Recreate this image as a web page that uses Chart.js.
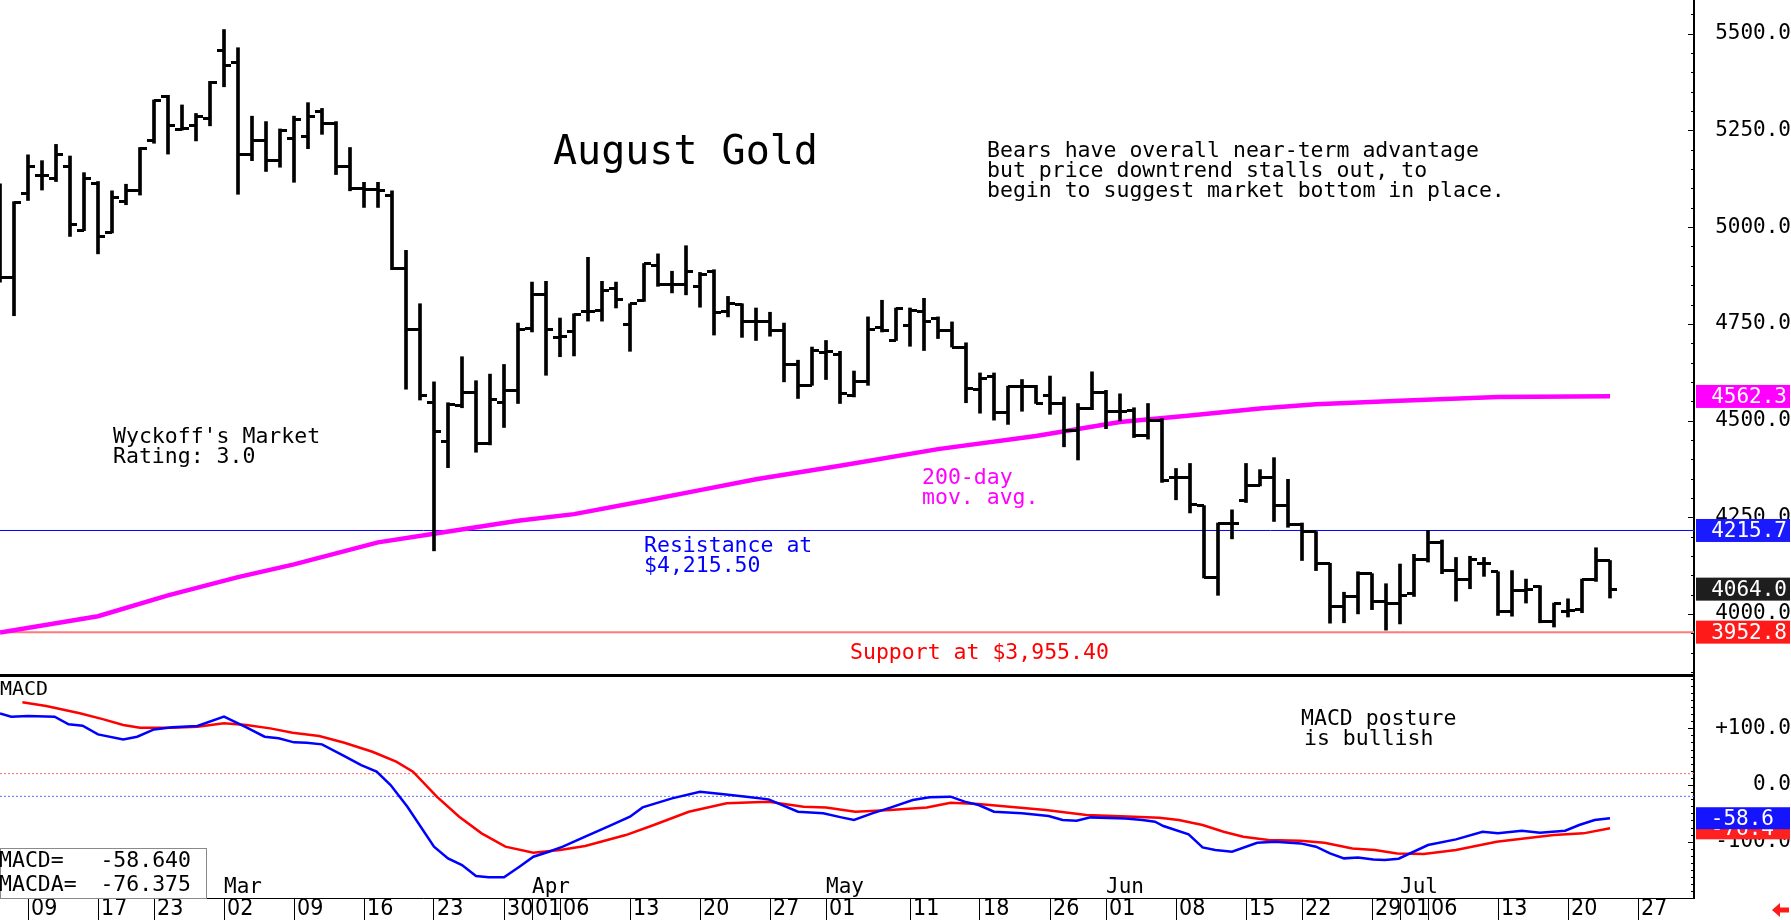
<!DOCTYPE html>
<html><head><meta charset="utf-8">
<script src="https://cdn.jsdelivr.net/npm/chart.js@4"></script>
<style>
html,body{margin:0;padding:0;background:#fff;width:1791px;height:920px;overflow:hidden}
#wrapA{position:absolute;left:0;top:0;width:1791px;height:677px}
#wrapB{position:absolute;left:0;top:677px;width:1791px;height:243px}
</style></head><body>
<div id="wrapA"><canvas id="priceChart"></canvas></div>
<div id="wrapB"><canvas id="macdChart"></canvas></div>
<script>
// ===== DATA (x = trading-day index, 0 = Feb 5) =====
const opens = [5000,4869,5086,5133,5127,5156,4991,5114,4987,5066, 5094,5223,5338,5253,5262,5282,5458,5425,5189,5223,
 5172,5228,5234,5298,5268,5158,5099,5097,5083,4894, 4735,4546,4445,4538,4572,4440,4546,4578,4738,4825,
 4715,4729,4782,4785,4841,4748,4811,4901,4853,4853, 4847,4886,4782,4799,4757,4757,4733,4645,4591,4676,
 4670,4566,4600,4740,4707,4746,4782,4763,4733,4690, 4580,4614,4522,4587,4587,4566,4544,4474,4531,4572,
 4524,4527,4460,4501,4353,4353,4280,4095,4235,4292, 4331,4353,4280,4230,4213,4131,4019,4045,4104,4033,
 4028,4053,4140,4185,4112,4090,4131,4109,4005,4061, 4071,3981,4005,4011,4090,4138];
const highs = [5112,5066,5187,5172,5214,5184,5141,5118,5094,5111, 5206,5329,5341,5316,5294,5377,5511,5464,5287,5273,
 5254,5287,5322,5307,5273,5206,5116,5116,5094,4940, 4802,4600,4546,4665,4603,4620,4645,4752,4858,4860,
 4765,4776,4922,4860,4858,4802,4906,4931,4886,4952, 4883,4890,4821,4802,4791,4780,4752,4656,4690,4707,
 4679,4628,4768,4811,4791,4791,4816,4768,4755,4701, 4623,4623,4589,4606,4591,4615,4561,4544,4626,4578,
 4569,4533,4544,4505,4376,4389,4280,4235,4269,4389, 4373,4404,4348,4235,4213,4131,4056,4109,4104,4078,
 4129,4154,4216,4191,4146,4149,4146,4109,4112,4090, 4073,4028,4039,4090,4171,4138];
const lows = [4858,4771,5069,5096,5118,4976,4991,4931,4985,5058, 5083,5217,5189,5251,5223,5262,5363,5085,5172,5144,
 5155,5116,5203,5240,5136,5094,5051,5051,4890,4581, 4553,4163,4378,4533,4418,4437,4482,4544,4729,4617,
 4665,4667,4757,4757,4791,4679,4808,4847,4830,4825, 4793,4721,4768,4715,4707,4718,4600,4557,4591,4606,
 4544,4561,4591,4729,4707,4692,4681,4712,4690,4546, 4519,4501,4490,4524,4544,4516,4432,4398,4528,4479,
 4499,4456,4452,4340,4295,4261,4093,4048,4194,4288, 4331,4239,4224,4138,4112,3976,3977,4000,4011,3958,
 3974,4045,4134,4104,4033,4065,4097,3996,3994,4028, 3977,3966,3992,4003,4084,4041];
const closes = [4869,5063,5156,5133,5187,5006,5127,4976,5077,5094, 5204,5327,5262,5255,5285,5374,5419,5189,5223,5172,
 5251,5279,5287,5268,5158,5099,5097,5094,4894,4735, 4564,4471,4542,4572,4440,4555,4578,4735,4825,4735,
 4718,4774,4782,4836,4813,4802,4905,4853,4853,4886, 4878,4780,4802,4757,4757,4733,4645,4591,4681,4679,
 4569,4600,4735,4733,4789,4784,4757,4733,4690,4583, 4609,4522,4587,4587,4544,4544,4474,4531,4572,4524,
 4524,4460,4501,4344,4353,4284,4095,4235,4235,4331, 4353,4280,4230,4213,4131,4019,4045,4104,4033,4028,
 4048,4140,4185,4112,4090,4140,4131,4005,4061,4064, 3981,4026,4008,4090,4138,4064];

const maIdx = [0,7,12,17,21,27,31,34,37,41,46,50,54,60,67,74,80,85,90,94,100,107,115];
const maVal = [3952,3994,4048,4095,4128,4185,4207,4224,4241,4258,4292,4320,4348,4383,4426,4460,4496,4513,4531,4542,4551,4561,4563];

const resistanceLevel = 4215.7;
const supportLevel = 3952.8;
const priceMarkerVals = [4562.3, 4215.7, 4064.0, 3952.8];

const macdIdx = [0,0.8,2,3.9,4.9,5.9,7,8.8,9.8,11,12.3,14.1,16,17.6,18.9,19.9,21,21.9,23,24.6,25.8,26.9,27.9,29.1,31,32,33,34,34.9,36,37.1,38.1,39.2,40.2,41.8,43.5,45,45.9,48,50,51.7,53.3,54.9,57,58.8,60.1,61,62.3,63.6,65.2,66.4,67.9,68.9,69.9,71,73,74.9,75.9,76.9,77.9,80.4,81.6,82.5,83.1,84.9,85.9,86.8,88,89.8,91.1,92.9,94,95,96,97,98.1,98.9,99.9,102,104,105.9,107,108.7,110,111.8,112.8,113.9,115];
const macdVal = [126,120.5,121.7,120.5,107,104.6,89.3,80.5,85.2,98.1,101.7,104,120.5,101.7,85.2,82.3,75.2,74.6,71.7,51.1,35.2,23.5,0,-38.3,-108.8,-129.4,-141.2,-160.6,-162.9,-162.9,-144.1,-126.5,-117.7,-108.8,-91.2,-72.4,-55.9,-39.5,-23.6,-11.8,-16.5,-20.6,-25.3,-47.1,-50,-57.1,-61.8,-50,-40,-26.5,-21.8,-20.6,-29.4,-35.3,-47.1,-50,-54.7,-61.8,-63,-57.1,-58.9,-61.8,-64.7,-72.4,-87.1,-110,-114.7,-117.7,-101.8,-100,-103,-108.8,-120.6,-129.4,-127.7,-131.2,-132.4,-130,-105.9,-95.9,-82.4,-85.3,-80.6,-84.1,-80.6,-70.6,-61.8,-58.6];
const signalIdx = [1.6,3.3,5.7,7.4,8.8,10,12.3,14.1,16,17.6,19.3,20.9,22.8,24.6,26.6,28.3,29.5,31.2,32.8,34.4,36.1,38.1,40,41.8,44.7,46.7,49.2,51.9,54.9,57.4,59,61.1,63.6,66.2,67.9,69.9,72.1,74.7,77.6,81,82.8,84.2,85.9,87.4,88.8,90.6,92.9,94.6,96.6,98.2,99.8,101.7,104,106.9,109,111,113.1,115];
const signalVal = [145.8,139.3,126.4,115.8,105.8,101.1,101.1,102.8,108.7,105.8,99.9,92.3,86.4,74.6,58.7,41.1,23.5,-20.6,-55.9,-85.3,-108.8,-119.4,-114.7,-107.7,-88.3,-70.6,-47.1,-32.3,-29.4,-38.3,-39.5,-47.1,-44,-39.5,-31.2,-33.6,-38.3,-44.2,-53,-55.9,-57.7,-61.8,-70.6,-82.4,-91.2,-97.1,-98.3,-101.8,-111.8,-114.7,-120.6,-121.8,-114.7,-100,-94.1,-88.3,-85.3,-76.4];
const macdUpperRef = 20;
const macdLowerRef = -20;
const macdMarkerVals = [-76.4, -58.6];
const macdLastText = '-58.640';
const signalLastText = '-76.375';

const dateTickIdx = [2,7,11,16,21,26,31,36,38,40,45,50,55,59,65,70,75,79,84,89,93,98,100,102,107,112,117];
const dateTickLabels = ['09','17','23','02','09','16','23','30','01','06','13','20','27','01','11','18','26','01','08','15','22','29','01','06','13','20','27'];
const monthIdx = [16,38,59,79,100];
const monthLabels = ['Mar','Apr','May','Jun','Jul'];

// ===== STYLE / LAYOUT =====
const MONO = "'DejaVu Sans Mono', monospace";
const NARROW = "'Liberation Sans Narrow', 'DejaVu Sans Condensed', 'DejaVu Sans Mono', sans-serif";
const X_MIN = 0, X_MAX = 121;
function tickImg(left){const c=document.createElement('canvas');c.width=14;c.height=3;const g=c.getContext('2d');g.fillStyle='#000';g.fillRect(left?0:7,0,7,3);return c;}
const openImg = tickImg(true), closeImg = tickImg(false);
const priceMarkerColors = ['#ff00ff','#1a1aff','#1e1e1e','#ff1a1a'];
const macdMarkerColors = ['#ff2020','#1414ff'];

function txt(ctx, s, x, y, size, color, align){
  ctx.font = size + 'px ' + MONO; ctx.fillStyle = color; ctx.textAlign = align || 'left'; ctx.textBaseline = 'alphabetic';
  ctx.fillText(s, x, y);
}
function stepTicks(step){
  return s => { const t = []; for (let v = Math.ceil(s.min / step) * step; v <= s.max; v += step) t.push({value: v}); s.ticks = t; };
}
function fixY(s){ s.width = 97; s.paddingTop = 0; s.paddingBottom = 0; }

const priceDecor = {
  id: 'priceDecor',
  afterDraw(chart){
    const {ctx, chartArea: a} = chart; const y = chart.scales.y;
    ctx.save();
    ctx.fillStyle = '#000';
    y.ticks.forEach(t => {
      const py = Math.round(y.getPixelForValue(t.value));
      const len = (t.value % 250 === 0) ? 6 : 3;
      ctx.fillRect(a.right - len, py, len, 1);
    });
    ctx.fillRect(0, a.bottom - 3, a.right, 3);
    // annotations
    txt(ctx, 'August Gold', 553, 164, 40, '#000');
    const b = ['Bears have overall near-term advantage','but price downtrend stalls out, to','begin to suggest market bottom in place.'];
    b.forEach((s,i)=>txt(ctx, s, 987, 157 + i*20.2, 21.5, '#000'));
    txt(ctx, "Wyckoff's Market", 113, 442.5, 21.5, '#000');
    txt(ctx, 'Rating: 3.0', 113, 463, 21.5, '#000');
    txt(ctx, '200-day', 922, 484, 21.5, '#ff00ff');
    txt(ctx, 'mov. avg.', 922, 504, 21.5, '#ff00ff');
    txt(ctx, 'Resistance at', 644, 552, 21.5, '#0000ff');
    txt(ctx, '$4,215.50', 644, 571.5, 21.5, '#0000ff');
    txt(ctx, 'Support at $3,955.40', 850, 659, 21.5, '#ff0000');
    // value markers on axis
    priceMarkerVals.forEach((v,i)=>{
      const py = y.getPixelForValue(v);
      ctx.fillStyle = priceMarkerColors[i];
      ctx.fillRect(1696, py - 11.5, 94, 23);
      ctx.font = '21px ' + MONO; ctx.fillStyle = '#fff'; ctx.textAlign = 'right'; ctx.textBaseline = 'middle';
      ctx.fillText(v.toFixed(1), 1787, py + 1);
    });
    ctx.restore();
  }
};

new Chart(document.getElementById('priceChart'), {
  type: 'bar',
  data: { datasets: [
    { type:'bar', data: lows.map((l,i)=>({x:i, y:[l, highs[i]]})), backgroundColor:'#000', borderWidth:0, barThickness:3, order:0 },
    { type:'scatter', data: opens.map((v,i)=>({x:i, y:v})), pointStyle: openImg, pointRadius:7, order:0 },
    { type:'scatter', data: closes.map((v,i)=>({x:i, y:v})), pointStyle: closeImg, pointRadius:7, order:0 },
    { type:'line', data: maIdx.map((x,i)=>({x, y:maVal[i]})), borderColor:'#ff00ff', borderWidth:4.5, pointRadius:0, tension:0, order:1 },
    { type:'line', data: [{x:X_MIN, y:resistanceLevel},{x:X_MAX, y:resistanceLevel}], borderColor:'#0000ff', borderWidth:1, pointRadius:0, order:2 },
    { type:'line', data: [{x:X_MIN, y:supportLevel},{x:X_MAX, y:supportLevel}], borderColor:'#ff7a7a', borderWidth:2, pointRadius:0, order:2 }
  ]},
  options: {
    responsive:true, maintainAspectRatio:false, animation:false, devicePixelRatio:1, events:[],
    layout:{padding:0, autoPadding:false},
    plugins:{legend:{display:false}, tooltip:{enabled:false}},
    scales:{
      x:{ type:'linear', min:X_MIN, max:X_MAX, offset:false, display:false },
      y:{ type:'linear', position:'right', min:3836.8, max:5587.4,
          afterBuildTicks: stepTicks(50),
          afterFit: fixY,
          grid:{ drawOnChartArea:false, drawTicks:false },
          border:{ display:true, color:'#000', width:2 },
          ticks:{ autoSkip:false, crossAlign:'far', padding:17, color:'#000',
                  font:{ family:MONO, size:21 }, callback: v => (v % 250 === 0 ? v.toFixed(1) : '') } }
    }
  },
  plugins:[priceDecor]
});

const macdDecor = {
  id: 'macdDecor',
  afterDraw(chart){
    const {ctx, chartArea: a} = chart; const y = chart.scales.y; const x = chart.scales.x;
    ctx.save();
    ctx.fillStyle = '#000';
    y.ticks.forEach(t => {
      const py = Math.round(y.getPixelForValue(t.value));
      const len = (t.value % 100 === 0) ? 6 : 3;
      ctx.fillRect(a.right - len, py, len, 1);
    });
    txt(ctx, 'MACD', 0, 18, 20, '#000');
    txt(ctx, 'MACD posture', 1301, 48, 21.5, '#000');
    txt(ctx, 'is bullish', 1304, 68, 21.5, '#000');
    monthIdx.forEach((m,i)=> txt(ctx, monthLabels[i], x.getPixelForValue(m), 216, 21, '#000'));
    // value box
    ctx.fillStyle = '#fff'; ctx.fillRect(0, 171, 207, 50);
    ctx.strokeStyle = '#8a8a8a'; ctx.lineWidth = 1; ctx.strokeRect(0.5, 171.5, 206, 50);
    txt(ctx, 'MACD=', -1, 190, 21.5, '#000');
    txt(ctx, 'MACDA=', -1, 214, 21.5, '#000');
    txt(ctx, macdLastText, 191, 190, 21.5, '#000', 'right');
    txt(ctx, signalLastText, 191, 214, 21.5, '#000', 'right');
    // markers
    macdMarkerVals.forEach((v,i)=>{
      const py = y.getPixelForValue(v);
      ctx.fillStyle = macdMarkerColors[i];
      ctx.fillRect(1696, py - 11, 94, 22);
      ctx.font = '21px ' + MONO; ctx.fillStyle = '#fff'; ctx.textAlign = 'right'; ctx.textBaseline = 'middle';
      ctx.fillText(v.toFixed(1), 1774, py + 1);
    });
    // red arrow
    ctx.fillStyle = '#ff1a1a';
    ctx.beginPath(); ctx.moveTo(1772, 233); ctx.lineTo(1780, 226); ctx.lineTo(1780, 230.5); ctx.lineTo(1789, 230.5);
    ctx.lineTo(1789, 235.5); ctx.lineTo(1780, 235.5); ctx.lineTo(1780, 240); ctx.closePath(); ctx.fill();
    ctx.restore();
  }
};

new Chart(document.getElementById('macdChart'), {
  type: 'line',
  data: { datasets: [
    { data: macdIdx.map((x,i)=>({x, y:macdVal[i]})), borderColor:'#0000ff', borderWidth:2.5, pointRadius:0, tension:0, order:0 },
    { data: signalIdx.map((x,i)=>({x, y:signalVal[i]})), borderColor:'#ff0000', borderWidth:2.5, pointRadius:0, tension:0, order:1 },
    { data: [{x:X_MIN, y:macdUpperRef},{x:X_MAX, y:macdUpperRef}], borderColor:'#ff6a6a', borderWidth:1, borderDash:[2,2], pointRadius:0, order:2 },
    { data: [{x:X_MIN, y:macdLowerRef},{x:X_MAX, y:macdLowerRef}], borderColor:'#6a6aff', borderWidth:1, borderDash:[2,2], pointRadius:0, order:2 }
  ]},
  options: {
    responsive:true, maintainAspectRatio:false, animation:false, devicePixelRatio:1, events:[],
    layout:{padding:0, autoPadding:false},
    plugins:{legend:{display:false}, tooltip:{enabled:false}},
    scales:{
      x:{ type:'linear', min:X_MIN, max:X_MAX, offset:false, position:'bottom',
          afterFit: s => { s.height = 22; s.paddingLeft = 0; s.paddingRight = 0; },
          afterBuildTicks: s => { s.ticks = dateTickIdx.map(v => ({value:v})); },
          grid:{ drawOnChartArea:false, drawTicks:true, tickLength:22, tickColor:'#000', tickWidth:1 },
          border:{ display:true, color:'#000', width:1 },
          ticks:{ autoSkip:false, maxRotation:0, minRotation:0, align:'start', labelOffset:3, padding:-25, color:'#000',
                  font:{ family:NARROW, size:23 }, callback: (v, i) => dateTickLabels[i] } },
      y:{ type:'linear', position:'right', min:-199.3, max:190.5,
          afterBuildTicks: stepTicks(12.5),
          afterFit: fixY,
          grid:{ drawOnChartArea:false, drawTicks:false },
          border:{ display:true, color:'#000', width:2 },
          ticks:{ autoSkip:false, crossAlign:'far', padding:4, color:'#000',
                  font:{ family:MONO, size:21 },
                  callback: v => (v % 100 === 0 ? (v > 0 ? '+' : '') + v.toFixed(1) : '') } }
    }
  },
  plugins:[macdDecor]
});
</script>
</body></html>
